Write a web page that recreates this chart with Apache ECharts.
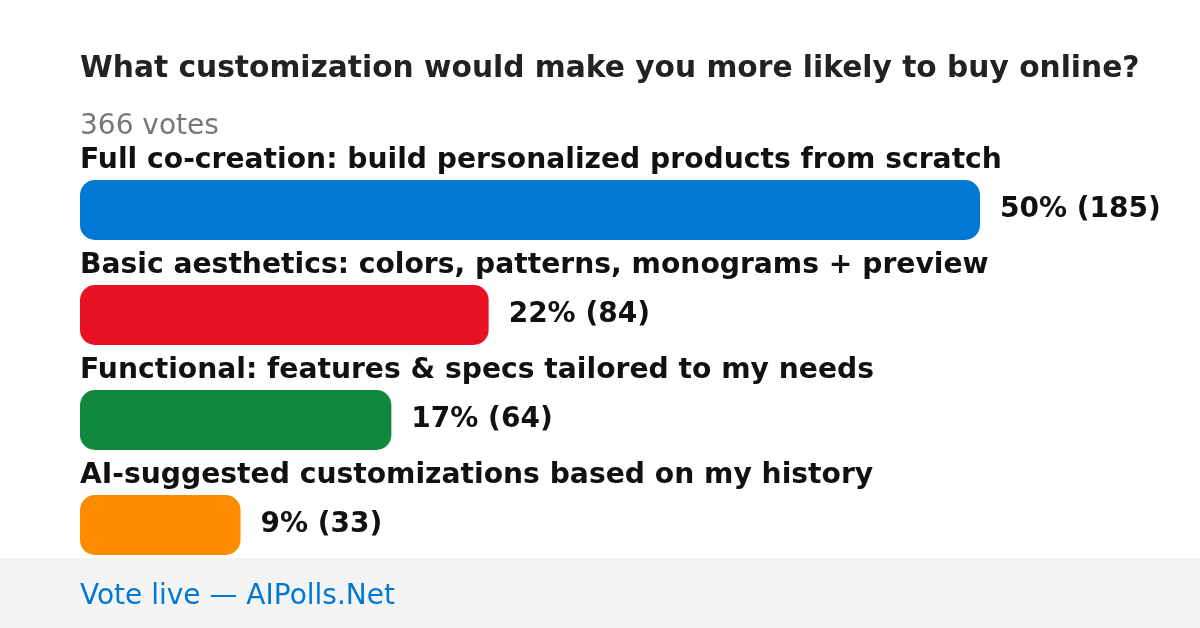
<!DOCTYPE html>
<html><head><meta charset="utf-8">
<script src="https://cdn.jsdelivr.net/npm/echarts@6/dist/echarts.min.js"></script>
<style>html,body{margin:0;padding:0;background:#fff}#c{width:1200px;height:628px}</style>
</head><body><div id="c"></div>
<script>
const categories = [
  "Full co-creation: build personalized products from scratch",
  "Basic aesthetics: colors, patterns, monograms + preview",
  "Functional: features & specs tailored to my needs",
  "AI-suggested customizations based on my history"
];
const votes = [185, 84, 64, 33];
const percents = [50, 22, 17, 9];
const colors = ["#0078d4", "#e81123", "#10893e", "#ff8c00"];
const titleText = "What customization would make you more likely to buy online?";
const totalText = "366 votes";
const footerText = "Vote live \u2014 AIPolls.Net";
const FONT = "DejaVu Sans";

const chart = echarts.init(document.getElementById('c'), null, {renderer: 'canvas'});
chart.setOption({
  animation: false,
  backgroundColor: '#ffffff',
  title: [
    {text: titleText, left: 80, top: 52, padding: 0,
     textStyle: {fontFamily: FONT, fontSize: 29.7, fontWeight: 'bold', color: '#222222', lineHeight: 34}},
    {text: totalText, left: 80, top: 111, padding: 0,
     textStyle: {fontFamily: FONT, fontSize: 28, fontWeight: 'normal', color: '#777777', lineHeight: 32}}
  ],
  grid: {left: 80, right: 220, top: 157.5, bottom: 50.5, containLabel: false},
  xAxis: {type: 'value', min: 0, max: 185, show: false},
  yAxis: {
    type: 'category', data: categories, inverse: true,
    axisLine: {show: false}, axisTick: {show: false}, splitLine: {show: false},
    axisLabel: {
      inside: true, margin: 0, align: 'left', verticalAlign: 'bottom',
      lineHeight: 30, padding: [0, 0, 34, 0],
      fontFamily: FONT, fontSize: 28.2, fontWeight: 'bold', color: '#111111'
    }
  },
  series: [{
    type: 'bar', barWidth: 60,
    data: votes.map((v, i) => ({value: v, itemStyle: {color: colors[i], borderRadius: 15}})),
    label: {
      show: true, position: 'right', distance: 20,
      fontFamily: FONT, fontSize: 28, fontWeight: 'bold', color: '#111111',
      formatter: p => percents[p.dataIndex] + '% (' + votes[p.dataIndex] + ')'
    }
  }],
  graphic: [
    {type: 'rect', left: 0, top: 558, shape: {width: 1200, height: 70}, style: {fill: '#f4f4f4'}, z: -1},
    {type: 'text', left: 80, top: 582, style: {text: footerText, fontFamily: FONT, fontSize: 28, fill: '#0078d4', lineHeight: 30}}
  ]
});
</script></body></html>
